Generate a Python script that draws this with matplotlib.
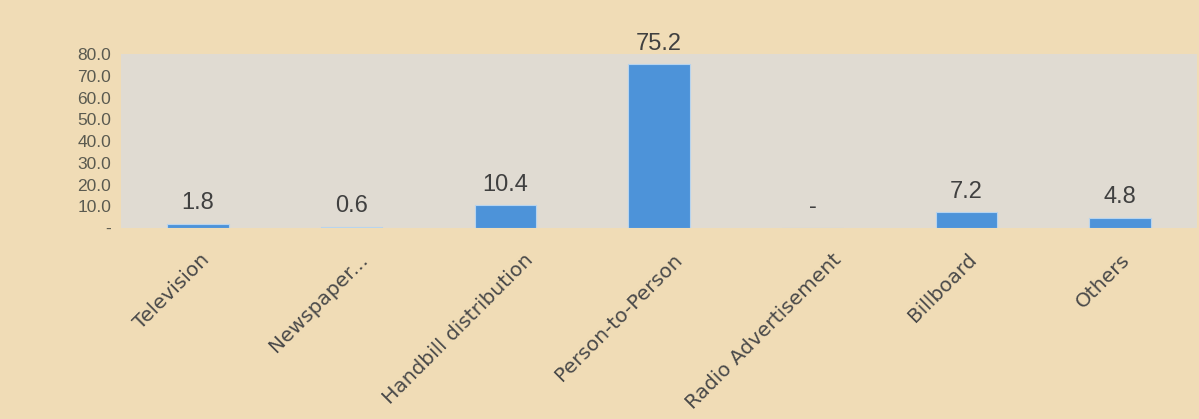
import matplotlib
matplotlib.use("Agg")
import matplotlib.pyplot as plt
import matplotlib.transforms as mtransforms
import numpy as np

categories = ["Television", "Newspaper...", "Handbill distribution", "Person-to-Person",
              "Radio Advertisement", "Billboard", "Others"]
values = [1.8, 0.6, 10.4, 75.2, 0.0, 7.2, 4.8]
yticks = [0, 10, 20, 30, 40, 50, 60, 70, 80]
ytick_labels = ["-", "10.0", "20.0", "30.0", "40.0", "50.0", "60.0", "70.0", "80.0"]

plt.rcParams['font.family'] = ['Liberation Sans', 'DejaVu Sans']

fig = plt.figure(figsize=(11.99, 4.19), dpi=100)
fig.patch.set_facecolor('#f0dcb6')
ax = fig.add_axes([121/1199, 1 - 228/419, (1197 - 121)/1199, (228 - 54)/419])
ax.set_facecolor('#e0dbd2')

x = np.arange(len(categories))
ax.bar(x, values, width=0.4, color='#4d93d9', edgecolor='#b8d4ee', linewidth=0.8, zorder=2)

for xi, v in zip(x, values):
    lbl = "-" if v == 0 else f"{v:.1f}"
    ax.annotate(lbl, (xi, v), xytext=(0, 15), textcoords='offset points',
                ha='center', va='center', fontsize=17, color='#404040')

ax.set_xlim(-0.5, len(categories) - 0.5)
ax.set_ylim(0, 80)
ax.set_yticks(yticks)
ax.set_yticklabels(ytick_labels, fontsize=12.5, color='#5a5a50')
ax.set_xticks(x)
ax.set_xticklabels(categories, rotation=45, ha='right', rotation_mode='anchor',
                   fontsize=14.5, color='#4a4a4a', family=['DejaVu Sans'])
ax.tick_params(axis='both', length=0)
ax.tick_params(axis='y', pad=7)
ax.tick_params(axis='x', pad=16)
for s in ax.spines.values():
    s.set_visible(False)

# shift longer rotated labels right (Excel-style anchoring)
fig.canvas.draw()
renderer = fig.canvas.get_renderer()
for t in ax.get_xticklabels():
    w = t.get_window_extent(renderer).width
    dx = max(0.0, 0.22 * (w - 75))
    t.set_transform(t.get_transform() + mtransforms.ScaledTranslation(dx / 100, 0, fig.dpi_scale_trans))

fig.savefig("out.png", dpi=100, facecolor=fig.get_facecolor())
